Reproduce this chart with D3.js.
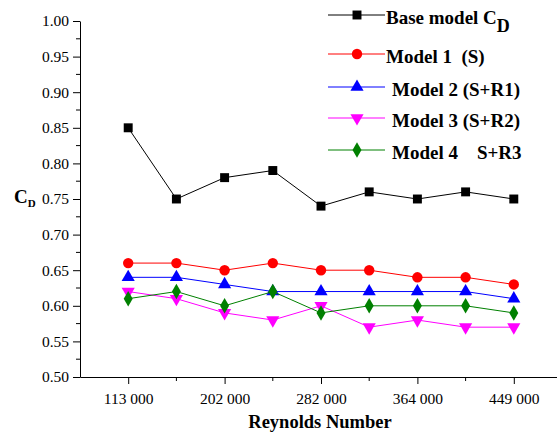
<!DOCTYPE html>
<html>
<head>
<meta charset="utf-8">
<script src="https://cdn.jsdelivr.net/npm/d3@7"></script>
<style>
  body { margin: 0; background: #fff; }
  svg { display: block; font-family: "Liberation Serif", "Times New Roman", serif; }
</style>
</head>
<body>
<svg width="557" height="435"></svg>
<script>
// x positions 1..9, labels only on odd ones
var reynolds = ["113 000", "", "202 000", "", "282 000", "", "364 000", "", "449 000"];

var baseModel = [0.85, 0.75, 0.78, 0.79, 0.74, 0.76, 0.75, 0.76, 0.75];
var model1 = [0.66, 0.66, 0.65, 0.66, 0.65, 0.65, 0.64, 0.64, 0.63];
var model2 = [0.64, 0.64, 0.63, 0.62, 0.62, 0.62, 0.62, 0.62, 0.61];
var model3 = [0.62, 0.61, 0.59, 0.58, 0.60, 0.57, 0.58, 0.57, 0.57];
var model4 = [0.61, 0.62, 0.60, 0.62, 0.59, 0.60, 0.60, 0.60, 0.59];

var seriesNames = ["Base model C", "Model 1  (S)", "Model 2 (S+R1)", "Model 3 (S+R2)", "Model 4    S+R3"];
var yTicks = [0.50, 0.55, 0.60, 0.65, 0.70, 0.75, 0.80, 0.85, 0.90, 0.95, 1.00];

var series = [
    {name: seriesNames[0], values: baseModel, color: "#000000", symbol: d3.symbolSquare, size: 80, rot: 0},
    {name: seriesNames[1], values: model1, color: "#ff0000", symbol: d3.symbolCircle, size: 85, rot: 0},
    {name: seriesNames[2], values: model2, color: "#0000ff", symbol: d3.symbolTriangle, size: 75, rot: 0},
    {name: seriesNames[3], values: model3, color: "#ff00ff", symbol: d3.symbolTriangle, size: 75, rot: 180},
    {name: seriesNames[4], values: model4, color: "#008000", symbol: d3.symbolDiamond, size: 70, rot: 0}
];

var svg = d3.select("svg");

var x = d3.scaleLinear().domain([0, 10]).range([80, 562]);
var y = d3.scaleLinear().domain([0.5, 1.0]).range([377, 21]);

// y axis with minor ticks
var yAxis = svg.append("g").attr("transform", "translate(80,0)");
yAxis.call(d3.axisLeft(y).tickValues(yTicks).tickFormat(d3.format(".2f")).tickSize(7).tickSizeOuter(0));
yAxis.selectAll(".tick text").attr("font-size", 15.5).attr("font-family", "Liberation Serif").attr("dx", "-1");
var yMinor = d3.range(0.525, 1.0, 0.05);
yAxis.selectAll(".minor").data(yMinor).enter().append("line")
    .attr("x1", 0).attr("x2", -4)
    .attr("y1", function(d) { return y(d); }).attr("y2", function(d) { return y(d); })
    .attr("stroke", "#000");

// x axis
var xAxis = svg.append("g").attr("transform", "translate(0,377)");
xAxis.call(d3.axisBottom(x).tickValues([1, 3, 5, 7, 9])
    .tickFormat(function(d) { return reynolds[d - 1]; }).tickSize(7).tickSizeOuter(0));
xAxis.selectAll(".tick text").attr("font-size", 15.5).attr("font-family", "Liberation Serif").attr("dy", "1.1em");
xAxis.selectAll(".minor").data([2, 4, 6, 8]).enter().append("line")
    .attr("x1", function(d) { return x(d); }).attr("x2", function(d) { return x(d); })
    .attr("y1", 0).attr("y2", 4)
    .attr("stroke", "#000");
svg.selectAll(".domain").attr("stroke", "#000");

// axis titles
svg.append("text")
    .attr("x", 320).attr("y", 428)
    .attr("text-anchor", "middle")
    .attr("font-weight", "bold").attr("font-size", 18.5)
    .text("Reynolds Number");

var yt = svg.append("text").attr("x", 14).attr("y", 203).attr("font-weight", "bold").attr("font-size", 19);
yt.append("tspan").text("C");
yt.append("tspan").attr("font-size", 11).attr("dy", 4).text("D");

// lines and markers
var line = d3.line()
    .x(function(d, i) { return x(i + 1); })
    .y(function(d) { return y(d); });

series.forEach(function(s) {
    svg.append("path")
        .datum(s.values)
        .attr("d", line)
        .attr("fill", "none")
        .attr("stroke", s.color)
        .attr("stroke-width", 1);

    svg.selectAll(null)
        .data(s.values)
        .enter().append("path")
        .attr("d", d3.symbol().type(s.symbol).size(s.size))
        .attr("transform", function(d, i) {
            return "translate(" + x(i + 1) + "," + y(d) + ") rotate(" + s.rot + ")";
        })
        .attr("fill", s.color);
});

// legend
var legendY = [15, 54, 87, 118, 150];
var legendTextX = [386, 386, 392, 392, 392];
var legend = svg.selectAll(".legend")
    .data(series)
    .enter().append("g")
    .attr("class", "legend")
    .attr("transform", function(d, i) { return "translate(0," + legendY[i] + ")"; });

legend.append("line")
    .attr("x1", 328).attr("x2", 385)
    .attr("y1", 0).attr("y2", 0)
    .attr("stroke", function(d) { return d.color; });

legend.append("path")
    .attr("d", function(d) { return d3.symbol().type(d.symbol).size(d.size)(); })
    .attr("transform", function(d) { return "translate(357,0) rotate(" + d.rot + ")"; })
    .attr("fill", function(d) { return d.color; });

var lt = legend.append("text")
    .attr("x", function(d, i) { return legendTextX[i]; })
    .attr("y", function(d, i) { return i === 0 ? 9 : 9; })
    .attr("font-weight", "bold").attr("font-size", 19)
    .attr("xml:space", "preserve")
    .style("white-space", "pre")
    .text(function(d) { return d.name; });

lt.filter(function(d, i) { return i === 0; })
    .append("tspan").attr("font-size", 18).attr("dy", 8).text("D");
</script>
</body>
</html>
